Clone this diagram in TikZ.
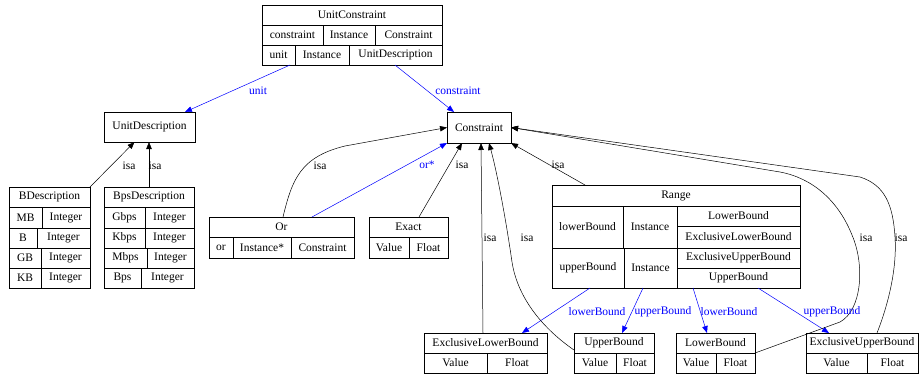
\documentclass[tikz,border=0pt]{standalone}
\usepackage{fontspec}
\setmainfont{Liberation Serif}
\usetikzlibrary{arrows.meta}
\newcommand\rcell[6]{\node[cellst, minimum width={(#4-#2)*1pt}, minimum height={(#5-#3)*1pt}] (#1) at ({(#2+#4)/2},{(#3+#5)/2}) {#6};}
\tikzset{
  cellst/.style={draw=black, line width=0.5pt, inner sep=0pt, outer sep=0pt},
  lbl/.style={inner sep=0pt},
  bluelbl/.style={inner sep=0pt, text=blue},
  isaedge/.style={draw=black, line width=0.5pt, -{Triangle[length=7pt,width=5.5pt]}},
  refedge/.style={draw=blue, line width=0.5pt, -{Triangle[length=7pt,width=5.5pt]}}
}
\begin{document}
\begin{tikzpicture}[x=1pt, y=-1pt, font=\fontsize{11.5pt}{13pt}\selectfont]
\useasboundingbox (0,0) rectangle (919,375);
\fill[white] (0,0) rectangle (919,375);
% UnitConstraint
\rcell{uc}{262}{5}{442}{65}{}
\rcell{uc-t}{262}{5}{442}{25}{UnitConstraint}
\rcell{uc-a1}{262}{25}{323}{45}{constraint}
\rcell{uc-a2}{323}{25}{375}{45}{Instance}
\rcell{uc-a3}{375}{25}{442}{45}{Constraint}
\rcell{uc-b1}{262}{45}{295}{65}{unit}
\rcell{uc-b2}{295}{45}{349}{65}{Instance}
\rcell{uc-b3}{349}{45}{442}{65}{UnitDescription}
% UnitDescription, Constraint
\rcell{ud}{104}{112}{195}{142}{UnitDescription}
\rcell{cn}{447}{112}{511}{143}{Constraint}
% BDescription
\rcell{bd}{9}{187}{90}{288}{}
\rcell{bd-t}{9}{187}{90}{207}{BDescription}
\rcell{bd-a1}{9}{207}{42}{228}{MB}
\rcell{bd-a2}{42}{207}{90}{228}{Integer}
\rcell{bd-b1}{9}{228}{37}{248}{B}
\rcell{bd-b2}{37}{228}{90}{248}{Integer}
\rcell{bd-c1}{9}{248}{41}{268}{GB}
\rcell{bd-c2}{41}{248}{90}{268}{Integer}
\rcell{bd-d1}{9}{268}{41}{288}{KB}
\rcell{bd-d2}{41}{268}{90}{288}{Integer}
% BpsDescription
\rcell{bp}{104}{187}{194}{288}{}
\rcell{bp-t}{104}{187}{194}{207}{BpsDescription}
\rcell{bp-a1}{104}{207}{145}{228}{Gbps}
\rcell{bp-a2}{145}{207}{194}{228}{Integer}
\rcell{bp-b1}{104}{228}{145}{248}{Kbps}
\rcell{bp-b2}{145}{228}{194}{248}{Integer}
\rcell{bp-c1}{104}{248}{147}{268}{Mbps}
\rcell{bp-c2}{147}{248}{194}{268}{Integer}
\rcell{bp-d1}{104}{268}{141}{288}{Bps}
\rcell{bp-d2}{141}{268}{194}{288}{Integer}
% Or
\rcell{or}{209}{217}{354}{258}{}
\rcell{or-t}{209}{217}{354}{237}{Or}
\rcell{or-a1}{209}{237}{233}{258}{or}
\rcell{or-a2}{233}{237}{291}{258}{Instance*}
\rcell{or-a3}{291}{237}{354}{258}{Constraint}
% Exact
\rcell{ex}{369}{217}{448}{258}{}
\rcell{ex-t}{369}{217}{448}{237}{Exact}
\rcell{ex-a1}{369}{237}{409}{258}{Value}
\rcell{ex-a2}{409}{237}{448}{258}{Float}
% Range
\rcell{rg}{552}{185}{800}{288}{}
\rcell{rg-t}{552}{185}{800}{206}{Range}
\rcell{rg-a1}{552}{206}{623}{248}{lowerBound}
\rcell{rg-a2}{623}{206}{677}{248}{Instance}
\rcell{rg-a3}{677}{206}{800}{226}{LowerBound}
\rcell{rg-a4}{677}{226}{800}{248}{ExclusiveLowerBound}
\rcell{rg-b1}{552}{248}{624}{288}{upperBound}
\rcell{rg-b2}{624}{248}{677}{288}{Instance}
\rcell{rg-b3}{677}{248}{800}{268}{ExclusiveUpperBound}
\rcell{rg-b4}{677}{268}{800}{288}{UpperBound}
% bottom records
\rcell{el}{424}{333}{547}{373}{}
\rcell{el-t}{424}{333}{547}{353}{ExclusiveLowerBound}
\rcell{el-a1}{424}{353}{487}{373}{Value}
\rcell{el-a2}{487}{353}{547}{373}{Float}
\rcell{ub}{574}{333}{654}{373}{}
\rcell{ub-t}{574}{333}{654}{353}{UpperBound}
\rcell{ub-a1}{574}{353}{616}{373}{Value}
\rcell{ub-a2}{616}{353}{654}{373}{Float}
\rcell{lb}{676}{333}{755}{373}{}
\rcell{lb-t}{676}{333}{755}{353}{LowerBound}
\rcell{lb-a1}{676}{353}{716}{373}{Value}
\rcell{lb-a2}{716}{353}{755}{373}{Float}
\rcell{eu}{806}{333}{918}{373}{}
\rcell{eu-t}{806}{333}{918}{353}{ExclusiveUpperBound}
\rcell{eu-a1}{806}{353}{867}{373}{Value}
\rcell{eu-a2}{867}{353}{918}{373}{Float}
% blue reference edges
\draw[refedge] ([xshift=28pt]uc.south west) -- ([xshift=-10pt]ud.north east);
\draw[refedge] ([xshift=-47pt]uc.south east) -- ([xshift=7pt]cn.north west);
\draw[refedge] ([xshift=103pt]or.north west) -- (cn.south west);
\draw[refedge] ([xshift=38pt]rg.south west) -- ([xshift=98pt]el.north west);
\draw[refedge] ([xshift=91pt]rg.south west) -- ([xshift=48pt]ub.north west);
\draw[refedge] ([xshift=141pt]rg.south west) -- ([xshift=31pt]lb.north west);
\draw[refedge] ([xshift=206pt]rg.south west) -- ([xshift=23pt]eu.north west);
% isa edges
\draw[isaedge] (bd.north east) -- ([xshift=-15pt]ud.south);
\draw[isaedge] (bp.north) -- (bp.north |- ud.south);
\draw[isaedge] ([xshift=74pt]or.north west) .. controls (292,180) and (300,157) .. (345,146) -- (cn.west);
\draw[isaedge] ([xshift=50pt]ex.north west) -- ([xshift=15pt]cn.south west);
\draw[isaedge] ([xshift=33pt]rg.north west) -- (cn.south east);
\draw[isaedge] ([xshift=59pt]el.north west) -- ([xshift=34pt]cn.south west);
\draw[isaedge] ([yshift=3pt]ub.west) .. controls (545,330) and (518,300) .. (512,262) .. controls (506,220) and (497,172) .. ([xshift=42pt]cn.south west);
\draw[isaedge] (lb.east) -- (840,322) .. controls (862,310) and (865,265) .. (852,235) .. controls (838,200) and (812,178) .. (780,172) -- (cn.east);
\draw[isaedge] ([xshift=71pt]eu.north west) .. controls (890,300) and (897,265) .. (895,237) .. controls (893,205) and (885,185) .. (860,177) -- (cn.east);
% labels
\node[bluelbl] (l-unit) at (258,91) {unit};
\node[bluelbl] (l-constraint) at (458,91) {constraint};
\node[bluelbl] (l-or) at (427,165) {or*};
\node[bluelbl] (l-lb1) at (597,312) {lowerBound};
\node[bluelbl] (l-ub1) at (663,312) {upperBound};
\node[bluelbl] (l-lb2) at (729,312) {lowerBound};
\node[bluelbl] (l-ub2) at (832,312) {upperBound};
\node[lbl] (i1) at (129,166) {isa};
\node[lbl] (i2) at (155,166) {isa};
\node[lbl] (i3) at (320,166) {isa};
\node[lbl] (i4) at (462,165) {isa};
\node[lbl] (i5) at (558,165) {isa};
\node[lbl] (i6) at (490,238) {isa};
\node[lbl] (i7) at (527,238) {isa};
\node[lbl] (i8) at (866,238) {isa};
\node[lbl] (i9) at (901,238) {isa};
\end{tikzpicture}
\end{document}
